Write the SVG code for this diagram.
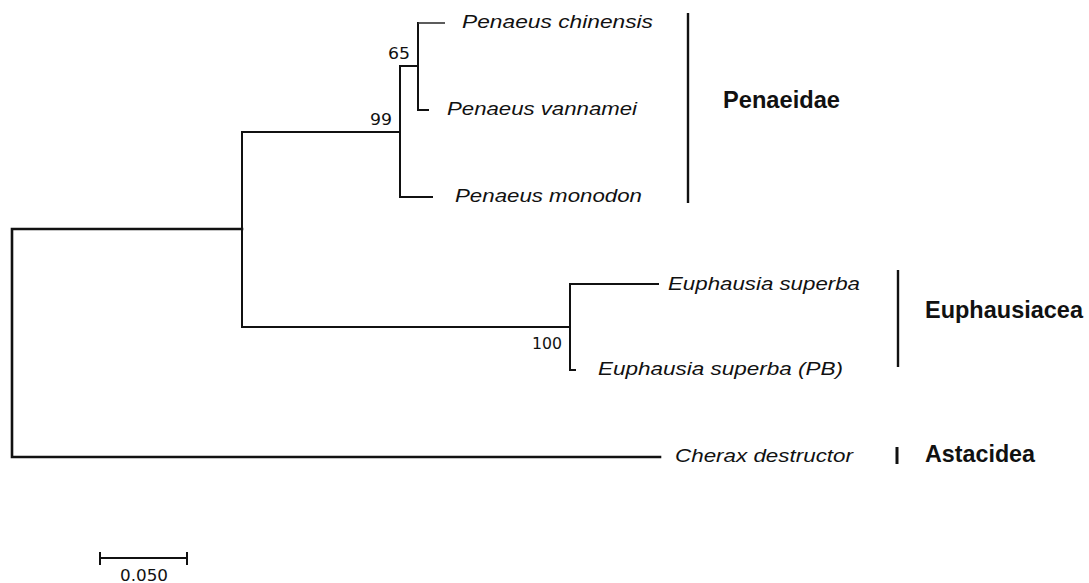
<svg xmlns="http://www.w3.org/2000/svg" width="1089" height="583" viewBox="0 0 1089 583">
<style>
.br{stroke:#111;stroke-width:2;fill:none;stroke-linecap:square}
.rt{stroke:#111;stroke-width:2.6;fill:none;stroke-linecap:square}
.bar{stroke:#111;stroke-width:2.4}
.sp{font-family:"Liberation Sans",Arial,sans-serif;font-style:italic;font-size:18px;fill:#111}
.grp{font-family:"Liberation Sans",Arial,sans-serif;font-weight:bold;font-size:24px;fill:#111}
.bs{font-family:"DejaVu Sans",Verdana,sans-serif;font-size:16px;fill:#111}
</style>
<rect width="1089" height="583" fill="#fff"/>
<g id="connectors">
<path class="rt" d="M242,229 H12 V457 H660"/>
<path class="br" d="M400,132 H242 V327 H570"/>
<path class="br" d="M432,197 H400 V66 H418"/>
<path class="br" d="M418,23 V110 H428"/>
<path d="M418,23 H445" stroke="#333" stroke-width="1.6" fill="none"/>
<path class="br" d="M658,284 H570 V370 H575"/>
</g>
<g id="bootstrap">
<text class="bs" x="370" y="125" textLength="22" lengthAdjust="spacingAndGlyphs">99</text>
<text class="bs" x="388" y="59" textLength="22" lengthAdjust="spacingAndGlyphs">65</text>
<text class="bs" x="532" y="348.5" textLength="30" lengthAdjust="spacingAndGlyphs">100</text>
</g>
<g id="node-chinensis"><text class="sp" x="462" y="28" textLength="191" lengthAdjust="spacingAndGlyphs">Penaeus  chinensis</text></g>
<g id="node-vannamei"><text class="sp" x="447" y="115" textLength="190" lengthAdjust="spacingAndGlyphs">Penaeus vannamei</text></g>
<g id="node-monodon"><text class="sp" x="455" y="202" textLength="187" lengthAdjust="spacingAndGlyphs">Penaeus monodon</text></g>
<g id="node-esuperba"><text class="sp" x="668" y="290" textLength="192" lengthAdjust="spacingAndGlyphs">Euphausia superba</text></g>
<g id="node-esuperba-pb"><text class="sp" x="598" y="375" textLength="245" lengthAdjust="spacingAndGlyphs">Euphausia superba (PB)</text></g>
<g id="node-cherax"><text class="sp" x="675" y="462" textLength="178" lengthAdjust="spacingAndGlyphs">Cherax destructor</text></g>
<g id="group-penaeidae">
<line class="bar" x1="688" y1="13" x2="688" y2="203"/>
<text class="grp" x="723" y="108" textLength="117" lengthAdjust="spacingAndGlyphs">Penaeidae</text>
</g>
<g id="group-euphausiacea">
<line class="bar" x1="898" y1="270" x2="898" y2="367"/>
<text class="grp" x="925" y="318" textLength="158" lengthAdjust="spacingAndGlyphs">Euphausiacea</text>
</g>
<g id="group-astacidea">
<line class="bar" x1="897" y1="447" x2="897" y2="464" style="stroke-width:3"/>
<text class="grp" x="925" y="462" textLength="110" lengthAdjust="spacingAndGlyphs">Astacidea</text>
</g>
<g id="scale">
<path class="br" d="M100,558 H187 M100,552 V565 M187,552 V565" style="stroke-linecap:butt"/>
<text class="bs" x="144" y="580.5" text-anchor="middle" textLength="48" lengthAdjust="spacingAndGlyphs">0.050</text>
</g>
</svg>
